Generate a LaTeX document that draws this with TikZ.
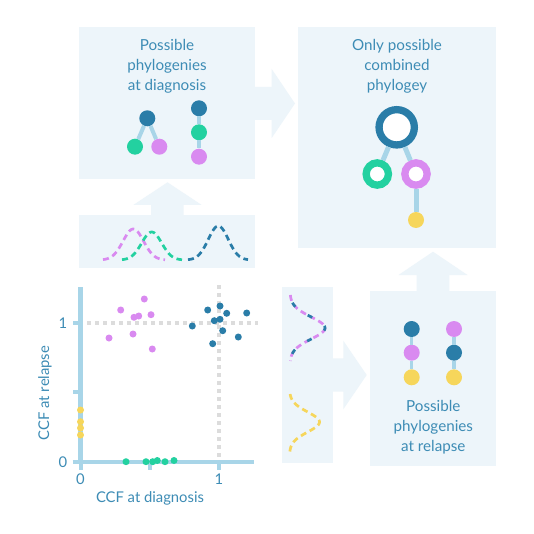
\documentclass[tikz,border=0pt]{standalone}
\usepackage{fontspec}
\setmainfont{Lato}
\definecolor{panel}{HTML}{EDF5FA}
\definecolor{txt}{HTML}{3D8CB5}
\definecolor{dblue}{HTML}{2A7DA8}
\definecolor{cgreen}{HTML}{23D1A0}
\definecolor{cpurple}{HTML}{D98AF0}
\definecolor{cyellow}{HTML}{F6D65B}
\definecolor{lblue}{HTML}{A8D5E8}
\definecolor{grid}{HTML}{DCDCDC}
\tikzset{
  lbl/.style={text=txt, align=center, font=\fontsize{15.2}{20}\selectfont, inner sep=0pt},
  axlbl/.style={text=txt, font=\fontsize{14.8}{16}\selectfont, inner sep=0pt},
  dot/.style={circle, minimum size=16pt, inner sep=0pt, draw=none},
  ring/.style={circle, inner sep=0pt, fill=white, line width=7.3pt},
  pt/.style={circle, minimum size=7pt, inner sep=0pt, draw=none},
  edge/.style={lblue, line width=4pt},
  dens/.style={line width=2.7pt, dash pattern=on 6pt off 4pt},
  arrowshape/.style={fill=panel}
}
\begin{document}
\begin{tikzpicture}[x=1pt,y=-1pt]
\useasboundingbox (0,0) rectangle (534,534);
\fill[white] (0,0) rectangle (534,534);
% panels
\fill[panel] (79,27) rectangle (255,179);
\fill[panel] (298,27) rectangle (496,248);
\fill[panel] (79,215) rectangle (255,268);
\fill[panel] (282,287) rectangle (333,463);
\fill[panel] (370,291) rectangle (496,466);
% arrows
\fill[arrowshape] (254,87) -- (271.7,87) -- (271.7,69) -- (295,103.5) -- (271.7,138) -- (271.7,120) -- (254,120) -- cycle;
\fill[arrowshape] (416.7,292) -- (416.7,275) -- (398.5,275) -- (433,251.7) -- (467.5,275) -- (449.3,275) -- (449.3,292) -- cycle;
\fill[arrowshape] (332,358.3) -- (343.3,358.3) -- (343.3,340.7) -- (366.7,375) -- (343.3,409.3) -- (343.3,391.7) -- (332,391.7) -- cycle;
\fill[arrowshape] (151,216) -- (151,205) -- (133.3,205) -- (167.5,182.3) -- (201.7,205) -- (183.5,205) -- (183.5,216) -- cycle;
% titles
\node[lbl] (t1) at (167,66.7) {Possible\\phylogenies\\at diagnosis};
\node[lbl] (t2) at (397,66.7) {Only possible\\combined\\phylogey};
\node[lbl] (t3) at (433.3,427) {Possible\\phylogenies\\at relapse};
% tree diagnosis 1
\node[dot, fill=dblue] (a1) at (147.3,118.3) {};
\node[dot, fill=cgreen] (a2) at (135,146.7) {};
\node[dot, fill=cpurple] (a3) at (159.3,146.7) {};
\draw[edge] (a1) -- (a2);
\draw[edge] (a1) -- (a3);
% tree diagnosis 2
\node[dot, fill=dblue] (b1) at (199,108.3) {};
\node[dot, fill=cgreen] (b2) at (199,132.3) {};
\node[dot, fill=cpurple] (b3) at (199,156.7) {};
\draw[edge] (b1) -- (b2);
\draw[edge] (b2) -- (b3);
% combined tree
\node[ring, draw=dblue, minimum size=35.3pt] (c1) at (396.7,127.3) {};
\node[ring, draw=cgreen, minimum size=22.3pt] (c2) at (377.3,174) {};
\node[ring, draw=cpurple, minimum size=22.3pt] (c3) at (416,174) {};
\node[dot, fill=cyellow] (c4) at (416,220) {};
\draw[edge, line width=5pt] (c1) -- (c2);
\draw[edge, line width=5pt] (c1) -- (c3);
\draw[edge, line width=5pt] (c3) -- (c4);
% relapse trees
\node[dot, fill=dblue] (d1) at (411.7,329) {};
\node[dot, fill=cpurple] (d2) at (411.7,352.7) {};
\node[dot, fill=cyellow] (d3) at (411.7,377.3) {};
\draw[edge, line width=3.5pt] (d1) -- (d2);
\draw[edge, line width=3.5pt] (d2) -- (d3);
\node[dot, fill=cpurple] (e1) at (454,329) {};
\node[dot, fill=dblue] (e2) at (454,352.7) {};
\node[dot, fill=cyellow] (e3) at (454,377.3) {};
\draw[edge, line width=3.5pt] (e1) -- (e2);
\draw[edge, line width=3.5pt] (e2) -- (e3);
% densities diagnosis
\draw[dens, cpurple] plot[domain=103:165, samples=60, smooth] (\x, {260 - 31*exp(-0.5*pow((\x-133.3)/10.3,2))});
\draw[dens, cgreen] plot[domain=122:182, samples=60, smooth] (\x, {260 - 28*exp(-0.5*pow((\x-151.7)/10,2))});
\draw[dens, dblue] plot[domain=188:248, samples=60, smooth] (\x, {260 - 34*exp(-0.5*pow((\x-218.3)/10,2))});
% densities relapse
\draw[dens, cpurple, dash pattern=on 6pt off 4pt] plot[domain=295:361, samples=60, smooth] ({290 + 35*exp(-0.5*pow((\x-328)/11,2))}, \x);
\draw[dens, dblue, dash pattern=on 5pt off 15pt, dash phase=-8pt] plot[domain=295:361, samples=60, smooth] ({290 + 35*exp(-0.5*pow((\x-328)/11,2))}, \x);
\draw[dens, cyellow] plot[domain=394:452, samples=60, smooth] ({289.5 + 30*exp(-0.5*pow((\x-422)/10,2))}, \x);
% scatter grid
\draw[grid, line width=4pt, dash pattern=on 4pt off 4pt] (87,323) -- (258,323);
\draw[grid, line width=4pt, dash pattern=on 4pt off 4pt] (219,285) -- (219,460);
% axes
\coordinate (o) at (80.5,462);
\draw[lblue, line width=4.5pt] (80.5,287) -- (80.5,464);
\draw[lblue, line width=4.5pt] (72.5,462) -- (254,462);
\draw[lblue, line width=4pt] (73,323) -- (80,323);
\draw[lblue, line width=4pt] (73,392) -- (80,392);
\draw[lblue, line width=4pt] (150,462) -- (150,470);
\draw[lblue, line width=4pt] (219,462) -- (219,470);
\draw[lblue, line width=4pt] (80.5,462) -- (80.5,470);
\node[axlbl] (y1) at (63,323) {1};
\node[axlbl] (y0) at (63,462) {0};
\node[axlbl] (x0) at (80.5,479) {0};
\node[axlbl] (x1) at (219,479) {1};
\node[axlbl] (xl) at (150,498) {CCF at diagnosis};
\node[axlbl, rotate=90] (yl) at (45,393) {CCF at relapse};
% points
\foreach \px/\py [count=\i] in {144.3/299,120.7/310,134/317.3,138.7/316,151/314.7,109/338,133/334,152.3/349}
  \node[pt, fill=cpurple] (p\i) at (\px,\py) {};
\foreach \px/\py [count=\i] in {207.7/310,220/306,226.7/313.3,246.7/313,192.3/326,214.3/320.7,220/319.3,222.7/330.7,238.3/337,212.7/343.7}
  \node[pt, fill=dblue] (q\i) at (\px,\py) {};
\foreach \py [count=\i] in {410,421.7,428,435}
  \node[pt, fill=cyellow] (r\i) at (80.5,\py) {};
\foreach \px/\py [count=\i] in {126/461.7,146/461.7,152.7/461.7,157.3/460.5,165/461.7,174/460.5}
  \node[pt, fill=cgreen] (s\i) at (\px,\py) {};
\end{tikzpicture}
\end{document}
